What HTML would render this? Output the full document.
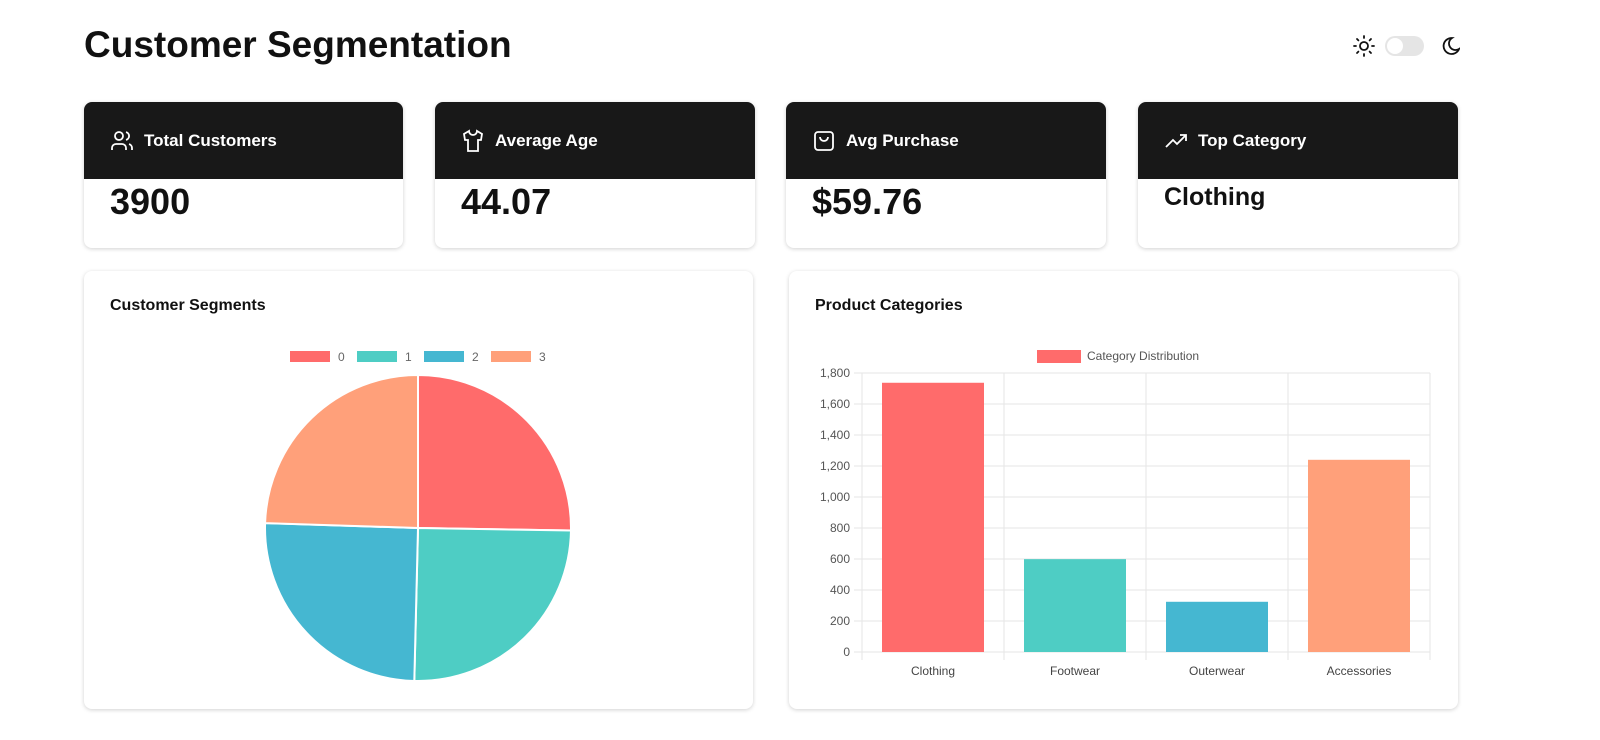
<!DOCTYPE html>
<html><head><meta charset="utf-8"><style>
*{box-sizing:border-box;margin:0;padding:0}
body{width:1600px;height:740px;background:#fff;font-family:"Liberation Sans",sans-serif;position:relative;overflow:hidden;color:#111}
h1{position:absolute;left:84px;top:24px;font-size:37px;font-weight:700}
.card{position:absolute;top:102px;height:146px;width:319px;border-radius:8px;box-shadow:0 1px 4px rgba(0,0,0,.18);overflow:hidden;background:#fff}
.card .hd{height:77px;background:#181818;color:#fff;font-weight:700;font-size:17px;display:flex;align-items:center;padding-left:26px;gap:10px}
.card .val{font-size:36px;font-weight:700;padding-left:26px;margin-top:2px}
.panel{position:absolute;top:271px;height:438px;border-radius:8px;box-shadow:0 1px 4px rgba(0,0,0,.18);background:#fff}
.panel h3{position:absolute;left:26px;top:26px;font-size:16px;font-weight:700}
svg text{font-family:"Liberation Sans",sans-serif}
</style></head><body>
<h1>Customer Segmentation</h1>
<div style="position:absolute;left:1350px;top:34px;width:110px;height:24px">
<svg width="110" height="24"><g stroke="#111" stroke-width="1.8" fill="none" stroke-linecap="round"><circle cx="14" cy="12" r="4"/><path d="M14 2v2M14 20v2M4 12h2M22 12h2M7 5l1.4 1.4M19.6 17.6l1.4 1.4M7 19l1.4-1.4M19.6 6.4L21 5"/></g>
<rect x="35" y="2" width="39" height="20" rx="10" fill="#e5e5e5"/><circle cx="45" cy="12" r="8" fill="#fff"/>
<path d="M102 4a8 8 0 1 0 7 11a6.5 6.5 0 0 1-7-11z" stroke="#111" stroke-width="1.8" fill="none"/></svg></div>

<div class="card" style="left:84px"><div class="hd"><svg width="24" height="24" fill="none" stroke="#fff" stroke-width="1.8"><circle cx="9" cy="7" r="4"/><path d="M2 21v-2a4 4 0 0 1 4-4h6a4 4 0 0 1 4 4v2M16 3.1a4 4 0 0 1 0 7.8M22 21v-2a4 4 0 0 0-3-3.9"/></svg><span>Total Customers</span></div><div class="val">3900</div></div>
<div class="card" style="left:435px;width:320px"><div class="hd"><svg width="24" height="24" fill="none" stroke="#fff" stroke-width="1.8"><path d="M8 2L3 5l1 6h3v11h10V11h3l1-6-5-3a4 4 0 0 1-8 0z"/></svg><span>Average Age</span></div><div class="val">44.07</div></div>
<div class="card" style="left:786px;width:320px"><div class="hd"><svg width="24" height="24" fill="none" stroke="#fff" stroke-width="1.8"><rect x="3" y="3" width="18" height="18" rx="3"/><path d="M8 8a4 4 0 0 0 8 0"/></svg><span>Avg Purchase</span></div><div class="val">$59.76</div></div>
<div class="card" style="left:1138px;width:320px"><div class="hd"><svg width="24" height="24" fill="none" stroke="#fff" stroke-width="1.8"><path d="M2 18l7-7 4 4 9-9M16 6h6v6"/></svg><span>Top Category</span></div><div class="val" style="font-size:25px;margin-top:4px">Clothing</div></div>

<div class="panel" style="left:84px;width:669px"><h3>Customer Segments</h3>
<svg id="pie" width="669" height="438" style="position:absolute;left:0;top:0"></svg></div>
<div class="panel" style="left:789px;width:669px"><h3>Product Categories</h3>
<svg id="bar" width="669" height="438" style="position:absolute;left:0;top:0"></svg></div>

<script>
const segLabels=["0","1","2","3"];
const segValues=[985,980,980,955];
const segColors=["#ff6b6b","#4ecdc4","#45b7d1","#ffa07a"];
const cats=["Clothing","Footwear","Outerwear","Accessories"];
const catValues=[1737,599,324,1240];
const yTicks=[0,200,400,600,800,1000,1200,1400,1600,1800];
const NS="http://www.w3.org/2000/svg";
function mk(p,t,a){const e=document.createElementNS(NS,t);for(const k in a)e.setAttribute(k,a[k]);p.appendChild(e);return e;}
// pie
const pie=document.getElementById('pie');
const cx=334,cy=257,r=153;
const lw=[40,40,40,40];let lx=206;
segLabels.forEach((l,i)=>{const g=mk(pie,'g',{});


mk(g,'rect',{x:lx,y:80,width:40,height:11,fill:segColors[i]});
const t=mk(g,'text',{x:lx+48,y:90,'font-size':12,fill:'#666'});t.textContent=l;lx+=67;});
const tot=segValues.reduce((a,b)=>a+b,0);let a0=-Math.PI/2;
segValues.forEach((v,i)=>{const a1=a0+v/tot*2*Math.PI;
const d=`M${cx},${cy}L${cx+r*Math.cos(a0)},${cy+r*Math.sin(a0)}A${r},${r} 0 ${a1-a0>Math.PI?1:0} 1 ${cx+r*Math.cos(a1)},${cy+r*Math.sin(a1)}Z`;
const p=mk(pie,'path',{d,fill:segColors[i],stroke:'#fff','stroke-width':2});

a0=a1;});
// bar
const bar=document.getElementById('bar');
const x0=73,x1=641,y0=381,yT=102,ymax=1800;
const Y=v=>y0-(v/ymax)*(y0-yT);const bw=(x1-x0)/cats.length;
const lg=mk(bar,'g',{});


mk(lg,'rect',{x:248,y:79,width:44,height:13,fill:'#ff6b6b'});
const lt=mk(lg,'text',{x:298,y:89,'font-size':12,fill:'#555'});lt.textContent='Category Distribution';
yTicks.forEach(v=>{mk(bar,'line',{x1:x0-8,x2:x1,y1:Y(v),y2:Y(v),stroke:'#e6e6e6'});
const t=mk(bar,'text',{x:x0-12,y:Y(v)+4,'font-size':12,fill:'#555','text-anchor':'end'});t.textContent=v.toLocaleString('en-US');});
for(let i=0;i<=cats.length;i++)mk(bar,'line',{x1:x0+i*bw,x2:x0+i*bw,y1:yT,y2:y0+8,stroke:'#e6e6e6'});
cats.forEach((c,i)=>{const rc=mk(bar,'rect',{x:x0+i*bw+20,y:Y(catValues[i]),width:bw-40,height:y0-Y(catValues[i]),fill:segColors[i]});


const t=mk(bar,'text',{x:x0+i*bw+bw/2,y:y0+23,'font-size':12,fill:'#444','text-anchor':'middle'});t.textContent=c;});
</script>
</body></html>
